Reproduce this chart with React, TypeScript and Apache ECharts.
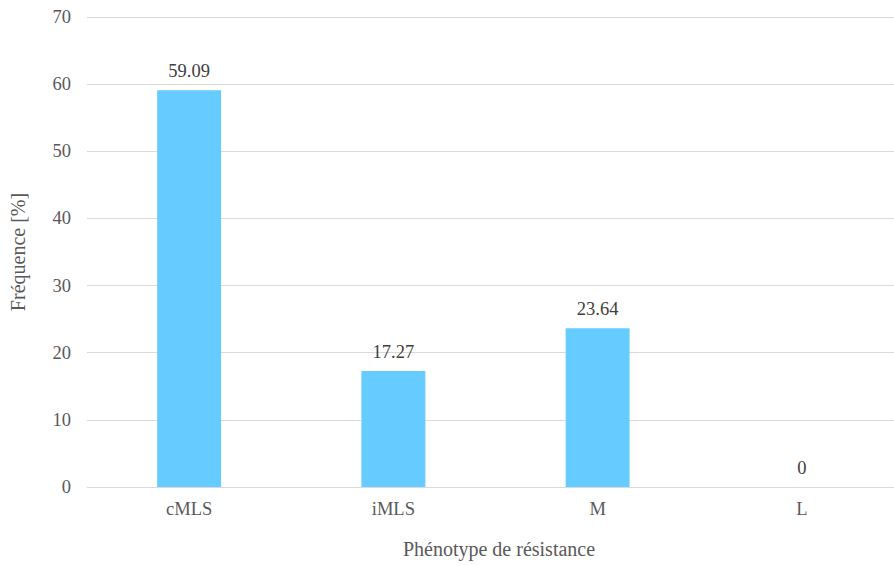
import React, { useEffect, useRef } from "react";
import * as echarts from "echarts";

const categories = ["cMLS", "iMLS", "M", "L"];
const frequencies = [59.09, 17.27, 23.64, 0];
const yTicks = { min: 0, max: 70, interval: 10 };

const FONT = "Liberation Serif";
const TEXT = "#595959";

export default function App() {
  const ref = useRef<HTMLDivElement>(null);

  useEffect(() => {
    if (!ref.current) return;
    const chart = echarts.init(ref.current, undefined, { renderer: "svg" });
    chart.setOption({
      animation: false,
      textStyle: { fontFamily: FONT },
      grid: { left: 87, right: 0, top: 17, bottom: 79, containLabel: false },
      xAxis: {
        type: "category",
        data: categories,
        name: "Phénotype de résistance",
        nameLocation: "middle",
        nameGap: 52,
        nameTextStyle: { fontFamily: FONT, fontSize: 20, color: TEXT, padding: [0, 0, 0, 7] },
        axisLine: { lineStyle: { color: "#d9d9d9", width: 1 } },
        axisTick: { show: false },
        axisLabel: { fontFamily: FONT, fontSize: 18.5, color: TEXT, margin: 12 },
      },
      yAxis: {
        type: "value",
        min: yTicks.min,
        max: yTicks.max,
        interval: yTicks.interval,
        name: "Fréquence [%]",
        nameLocation: "middle",
        nameGap: 59,
        nameRotate: 90,
        nameTextStyle: { fontFamily: FONT, fontSize: 20, color: TEXT },
        axisLine: { show: false },
        axisTick: { show: false },
        axisLabel: { fontFamily: FONT, fontSize: 18.5, color: TEXT, margin: 16 },
        splitLine: { lineStyle: { color: "#d9d9d9", width: 1 } },
      },
      series: [
        {
          type: "bar",
          data: frequencies,
          barWidth: "31.3%",
          itemStyle: { color: "#66CCFF" },
          label: {
            show: true,
            position: "top",
            distance: 10,
            fontFamily: FONT,
            fontSize: 18.5,
            color: "#404040",
          },
        },
      ],
    });
    return () => chart.dispose();
  }, []);

  // The plot runs a little past the right edge, so the chart is wider than its clipping frame.
  return (
    <div style={{ width: 894, height: 566, position: "absolute", left: 0, top: 0, overflow: "hidden" }}>
      <div ref={ref} style={{ width: 904, height: 566 }} />
    </div>
  );
}
